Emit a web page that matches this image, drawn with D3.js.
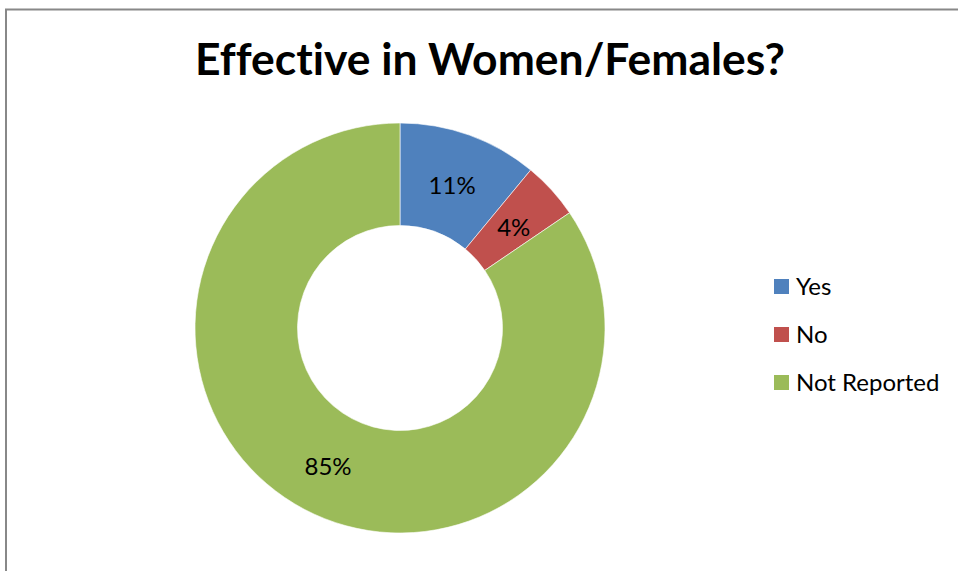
<!DOCTYPE html>
<html>
<head>
<meta charset="utf-8">
<script src="https://cdn.jsdelivr.net/npm/d3@7"></script>
<style>
  html, body { margin: 0; padding: 0; background: #fff; }
  svg { display: block; }
</style>
</head>
<body>
<svg id="chart" width="958" height="571"></svg>
<script>
const title = "Effective in Women/Females?";
const categories = ["Yes", "No", "Not Reported"];
const values = [11, 4.5, 84.5];
const valueLabels = ["11%", "4%", "85%"];
const colors = ["#4F81BD", "#C0504D", "#9BBB59"];

const svg = d3.select("#chart");
const W = 958, H = 571;
const FONT = "Lato, 'Open Sans', 'DejaVu Sans', sans-serif";

// chart area border
svg.append("rect")
  .attr("x", 6).attr("y", 9.5)
  .attr("width", W + 20).attr("height", H + 20)
  .attr("fill", "#fff")
  .attr("stroke", "#888888").attr("stroke-width", 2);

// title
svg.append("text")
  .attr("x", 490).attr("y", 75)
  .attr("text-anchor", "middle")
  .attr("font-family", FONT)
  .attr("font-weight", "bold")
  .attr("font-size", 43)
  .attr("fill", "#000")
  .attr("textLength", 590)
  .attr("lengthAdjust", "spacingAndGlyphs")
  .style("font-variant-ligatures", "none")
  .text(title);

const cx = 400, cy = 328, rOuter = 205, rInner = 102.5;
const pie = d3.pie().sort(null).value(d => d.value);
const data = categories.map((c, i) => ({ cat: c, value: values[i], label: valueLabels[i], color: colors[i] }));
const arcs = pie(data);
const arc = d3.arc().innerRadius(rInner).outerRadius(rOuter);
const labelArc = d3.arc().innerRadius((rInner + rOuter) / 2).outerRadius((rInner + rOuter) / 2);

const g = svg.append("g").attr("transform", `translate(${cx},${cy})`);
g.selectAll("path.slice")
  .data(arcs)
  .join("path")
  .attr("class", "slice")
  .attr("d", arc)
  .attr("fill", d => d.data.color)
  .attr("stroke", "#ffffff")
  .attr("stroke-width", 0.6);

g.selectAll("text.lbl")
  .data(arcs)
  .join("text")
  .attr("class", "lbl")
  .attr("transform", d => { const [x, y] = labelArc.centroid(d); return `translate(${x},${y + 1.5})`; })
  .attr("text-anchor", "middle")
  .attr("dominant-baseline", "central")
  .attr("font-family", FONT)
  .attr("font-size", 24)
  .attr("fill", "#000")
  .text(d => d.data.label);

// legend
const legY = d3.scalePoint().domain(categories).range([286.5, 382.5]);
const leg = svg.append("g");
const items = leg.selectAll("g.item").data(data).join("g").attr("class", "item")
  .attr("transform", d => `translate(774,${legY(d.cat)})`);
items.append("rect")
  .attr("x", 0).attr("y", -7.5).attr("width", 15).attr("height", 15)
  .attr("fill", d => d.color);
items.append("text")
  .attr("x", 22).attr("y", 8.5)
  .attr("font-family", FONT)
  .attr("font-size", 24)
  .attr("fill", "#000")
  .text(d => d.cat);
</script>
</body>
</html>
